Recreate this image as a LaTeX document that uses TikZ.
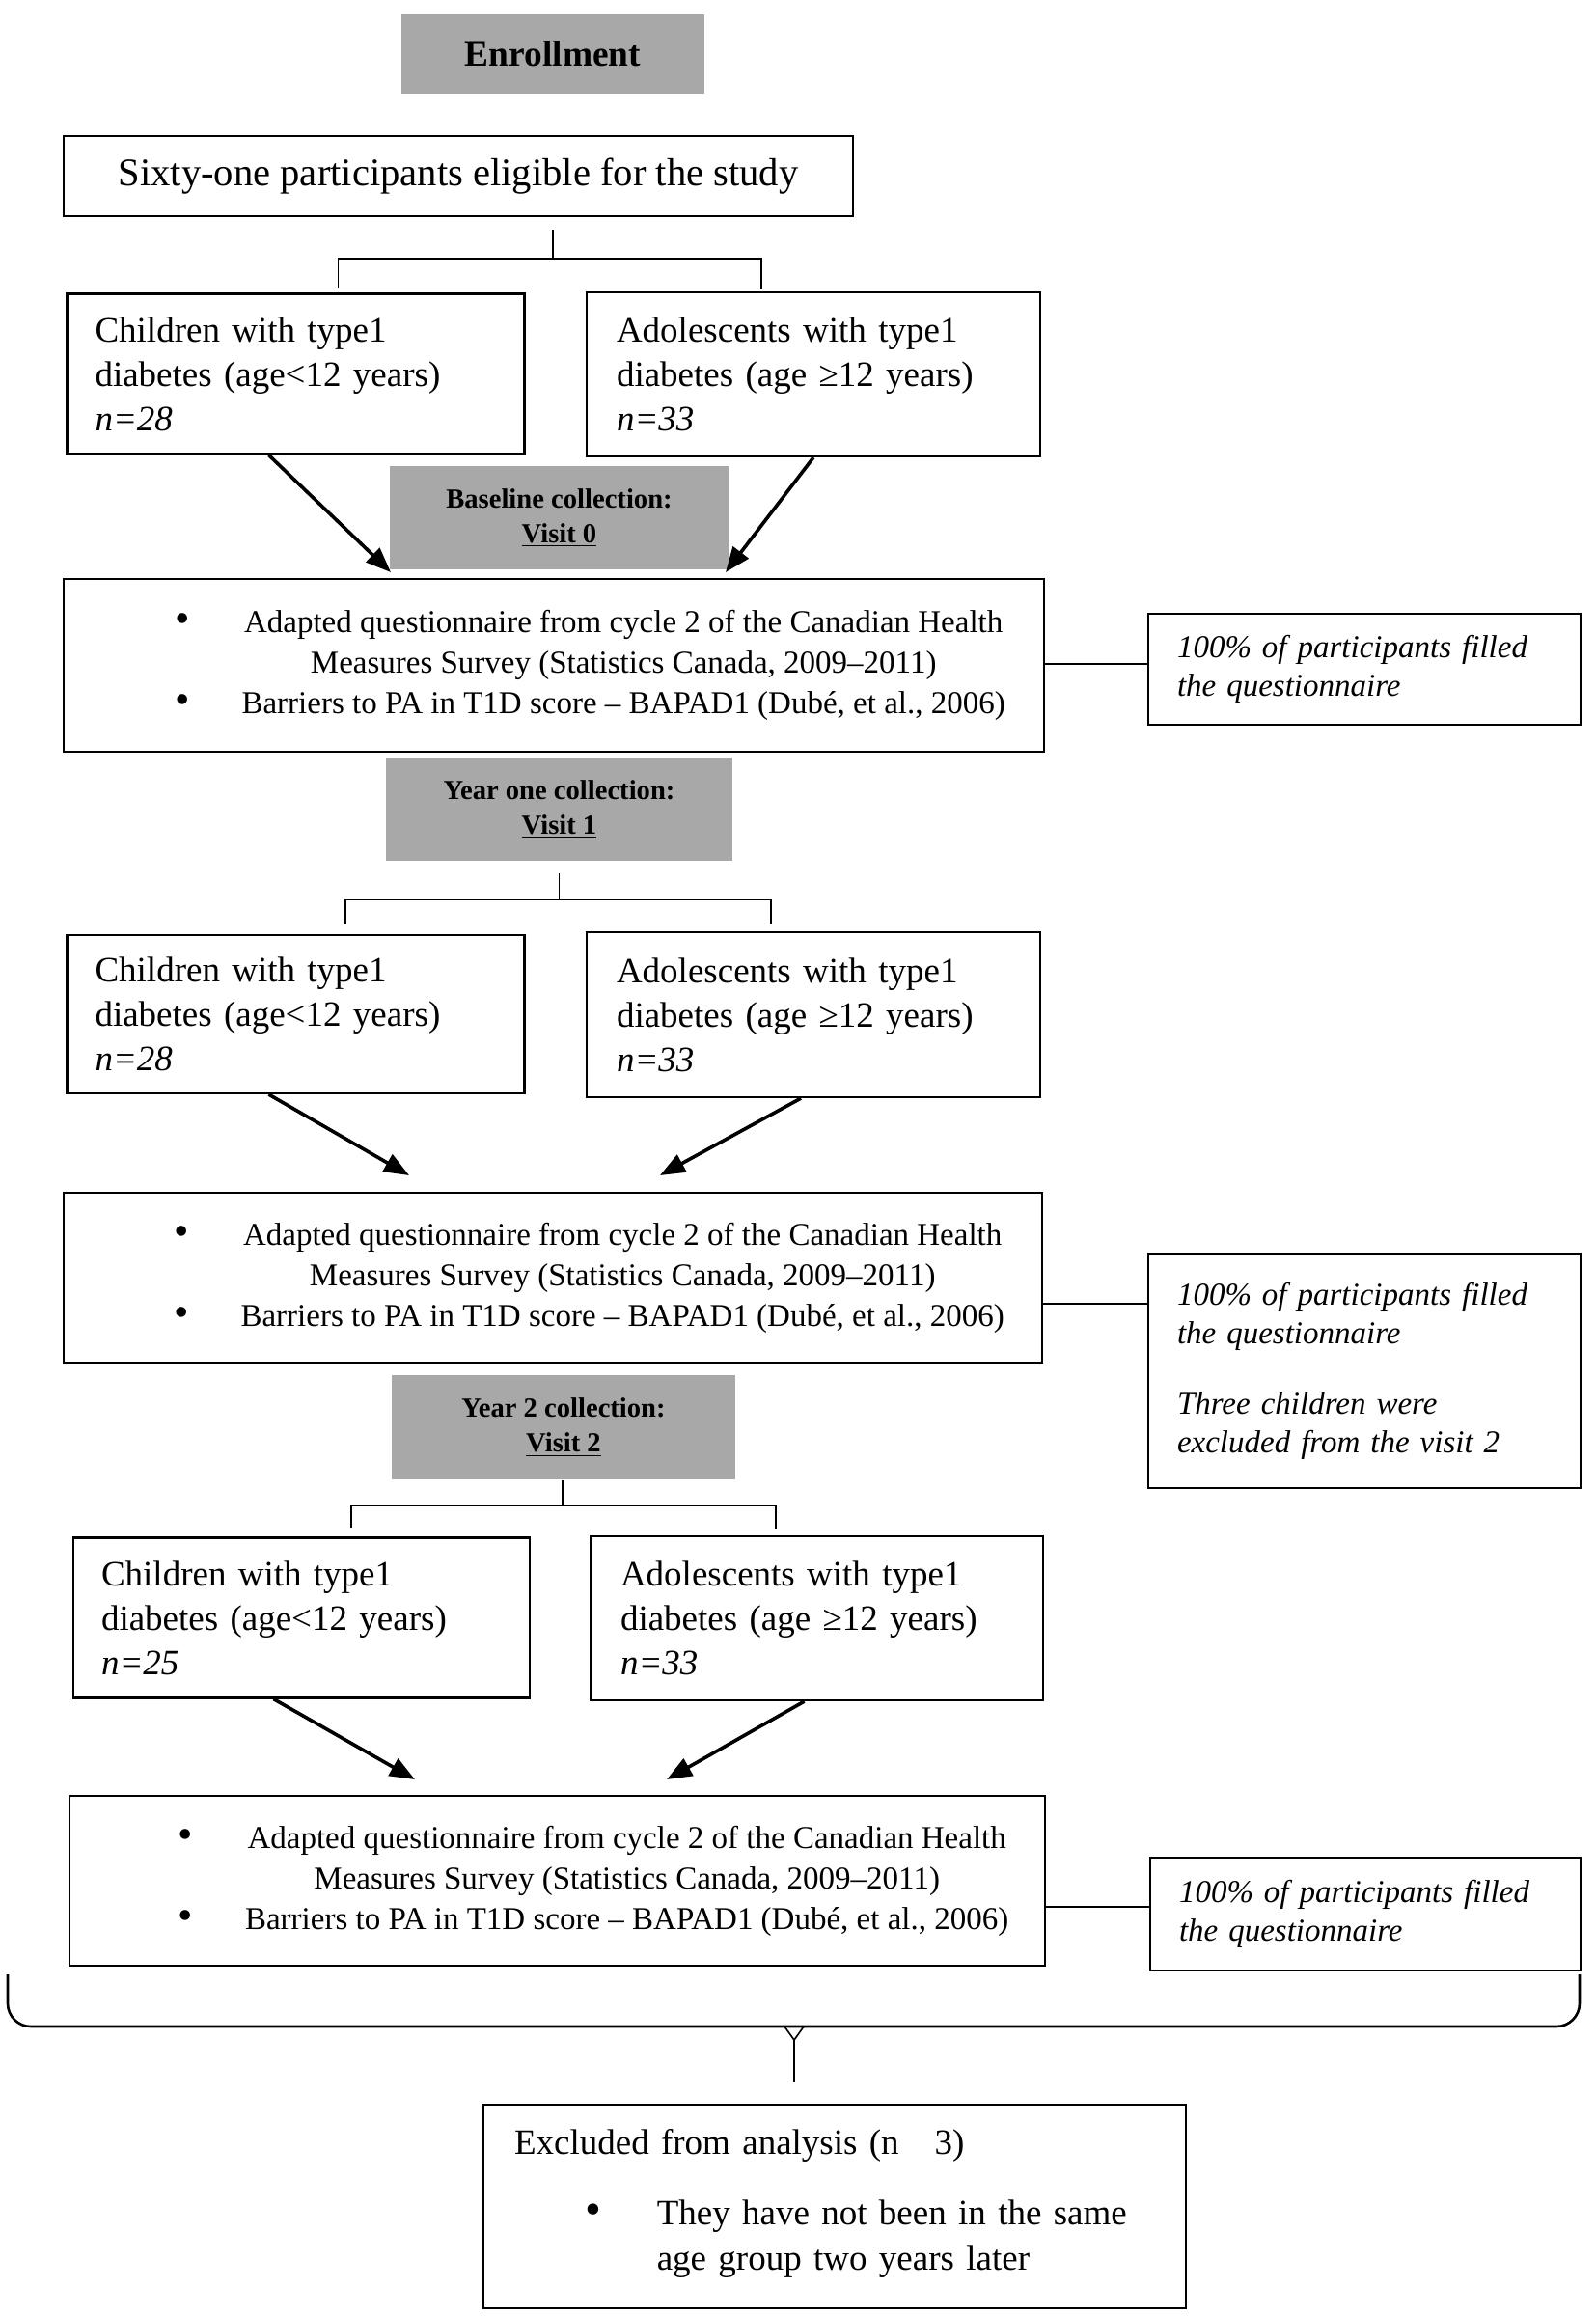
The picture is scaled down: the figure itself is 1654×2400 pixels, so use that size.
\documentclass[tikz,border=0pt]{standalone}
\usepackage{fontspec}
\setmainfont{Liberation Serif}
\usepackage{tikz}
\usetikzlibrary{arrows.meta, positioning, calc}
\usepackage{xcolor}
\definecolor{stagegray}{RGB}{168,168,168}
\tikzstyle{stagebox} = [rectangle, fill=stagegray, align=center, inner sep=0pt, minimum width=178pt, minimum height=53.5pt, font=\bfseries\fontsize{14.3}{18}\selectfont]
\tikzstyle{agebox} = [rectangle, draw=black, line width=1.1pt, inner xsep=14.5pt, text width=208pt, minimum height=83pt, align=left, font=\fontsize{18.5}{23}\selectfont]
\tikzstyle{surveybox} = [rectangle, draw=black, line width=1.1pt, inner sep=0pt, minimum width=507pt, minimum height=88pt, font=\fontsize{16.5}{21}\selectfont]
\tikzstyle{notebox} = [rectangle, draw=black, line width=1pt, inner xsep=15pt, text width=194pt, minimum height=58pt, align=left, font=\itshape\fontsize{16.5}{20}\selectfont]
\tikzstyle{arrow} = [line width=1.8pt, -{Triangle[length=13pt,width=10pt]}]
\tikzstyle{bracket} = [line width=0.8pt]
\tikzstyle{link} = [line width=1pt]

\newcommand{\bigdot}{{\fontsize{22}{21}\selectfont\textbullet}}
\newcommand{\surveylist}{\hspace*{37.5pt}\begin{tabular}{@{}c@{\hspace{27pt}}c@{}}
\bigdot & Adapted questionnaire from cycle 2 of the Canadian Health\\
 & Measures Survey (Statistics Canada, 2009–2011)\\
\bigdot & Barriers to PA in T1D score – BAPAD1 (Dubé, et al., 2006)
\end{tabular}}
\newcommand{\kidtext}[1]{Children with type1\\diabetes (age<12 years)\\\textit{n=#1}}
\newcommand{\teentext}[1]{Adolescents with type1\\diabetes (age ≥12 years)\\\textit{n=#1}}

\begin{document}
\begin{tikzpicture}[x=0.5pt, y=-0.5pt]
    \useasboundingbox (0,0) rectangle (1654,2400);

    \node (enroll) [stagebox, minimum width=157pt, minimum height=41pt, font=\bfseries\fontsize{18.7}{22}\selectfont] at (573,56) {Enrollment};
    \node (sixty) [rectangle, draw=black, line width=1.1pt, minimum width=409pt, minimum height=41.5pt, font=\fontsize{20.3}{24}\selectfont] at (475,182.5) {Sixty-one participants eligible for the study};

    \node (kid1) [agebox] at (306.5,387.5) {\kidtext{28}};
    \node (teen1) [agebox, text width=204pt, inner xsep=15.5pt, minimum height=85pt] at (843,388) {\teentext{33}};
    \node (visit0) [stagebox, minimum width=175.5pt] at (579.5,536.5) {Baseline collection:\\\underline{Visit 0}};
    \node (quest1) [surveybox, minimum width=508pt, minimum height=89.5pt] at (574,689.5) {\surveylist};
    \node (note1) [notebox, minimum height=57.5pt] at (1414,693.5) {100\% of participants filled\\the questionnaire};

    \node (visit1) [stagebox, minimum width=179.5pt] at (579.5,838.5) {Year one collection:\\\underline{Visit 1}};
    \node (kid2) [agebox, minimum height=82pt] at (306.5,1051) {\kidtext{28}};
    \node (teen2) [agebox, text width=204pt, inner xsep=15.5pt, minimum height=85.5pt] at (843,1051.5) {\teentext{33}};
    \node (quest2) [surveybox] at (573,1324) {\surveylist};
    \node (note2) [notebox, minimum height=121.5pt] at (1414,1420.5) {100\% of participants filled\\the questionnaire\\[16.5pt]Three children were\\excluded from the visit 2};

    \node (visit2) [stagebox, minimum height=54pt] at (584,1479) {Year 2 collection:\\\underline{Visit 2}};
    \node (kid3) [agebox, text width=207.5pt] at (312.5,1676.5) {\kidtext{25}};
    \node (teen3) [agebox, text width=203.5pt, inner xsep=15.5pt, minimum height=85pt] at (846.5,1677) {\teentext{33}};
    \node (quest3) [surveybox, minimum width=505.5pt] at (577.5,1949) {\surveylist};
    \node (note3) [notebox, text width=193pt, minimum height=58.5pt] at (1415,1983.5) {100\% of participants filled\\the questionnaire};

    \node (excl) [rectangle, draw=black, line width=1.1pt, inner xsep=16pt, text width=332pt, minimum height=105.5pt, align=left, font=\fontsize{18.5}{23.5}\selectfont] at (865,2286.5) {Excluded from analysis (n\ \ \ 3)\\[13pt]\hspace*{36.5pt}\begin{tabular}[t]{@{}l@{\hspace{29pt}}l@{}}{\fontsize{24}{23.5}\selectfont\textbullet} & They have not been in the same\\ & age group two years later\end{tabular}};

    \draw [bracket] ($(sixty.south -| enroll.south)+(0,13)$) -- ++(0,30) coordinate (b1);
    \draw [bracket] ($(kid1.north)+(44,-5)$) |- (b1) -| ($(teen1.north)+(-54,-3)$);
    \draw [bracket] ($(visit1.south)+(0,13)$) -- ++(0,27) coordinate (b2);
    \draw [bracket] ($(kid2.north)+(51.5,-11)$) |- (b2) -| ($(teen2.north)+(-44,-8)$);
    \draw [bracket] ($(visit2.south)+(-1,1)$) -- ++(0,26) coordinate (b3);
    \draw [bracket] ($(kid3.north)+(51.5,-9)$) |- (b3) -| ($(teen3.north)+(-42.5,-7)$);

    \coordinate (tip1a) at (405,593);
    \coordinate (tip1b) at (752,593);
    \coordinate (tip2a) at (424,1218);
    \coordinate (tip2b) at (684,1218);
    \coordinate (tip3a) at (430,1844);
    \coordinate (tip3b) at (691,1844);
    \foreach \src/\dx/\tip in {kid1/-28/tip1a, teen1/0/tip1b, kid2/-28/tip2a, teen2/-13/tip2b, kid3/-29/tip3a, teen3/-13/tip3b} {
        \draw [arrow] ($(\src.south)+(\dx,0)$) -- (\tip);
    }

    \path ([yshift=0.75pt]quest1.east) coordinate (q1out);
    \path ([yshift=-13.5pt]quest2.east) coordinate (q2out);
    \path ([yshift=-13.5pt]quest3.east) coordinate (q3out);
    \foreach \i/\j in {q1out/note1, q2out/note2, q3out/note3} {
        \draw [link] (\i) -- (\i -| \j.west);
    }

    \coordinate (braceL) at (8,2046);
    \coordinate (braceR) at (1637,2046);
    \coordinate (braceM) at (823,2100);
    \draw [line width=1.3pt, rounded corners=12pt] (braceL) |- (braceM) -| (braceR);
    \draw [bracket] ($(braceM)+(-10,0)$) -- ($(braceM)+(0,14)$) -- ($(braceM)+(10,0)$);
    \draw [bracket] ($(braceM)+(0,14)$) -- ($(excl.north)+(-42,-23)$);
\end{tikzpicture}
\end{document}
